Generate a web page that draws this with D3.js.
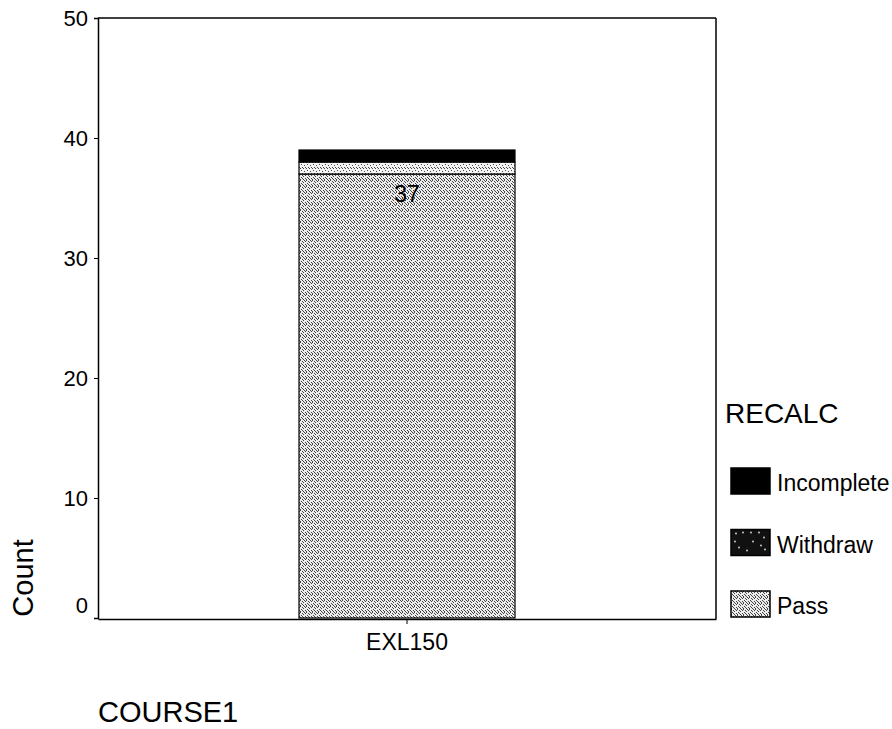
<!DOCTYPE html>
<html>
<head>
<meta charset="utf-8">
<script src="https://cdn.jsdelivr.net/npm/d3@7"></script>
<style>
  html, body { margin: 0; padding: 0; background: #fff; }
  svg { display: block; font-family: "Liberation Sans", Arial, sans-serif; }
</style>
</head>
<body>
<svg id="chart" width="892" height="729"></svg>
<script>
// ---- data ----
const categories = ["EXL150"];
const seriesNames = ["Pass", "Withdraw", "Incomplete"];
const passValues = [37];
const withdrawValues = [1];
const incompleteValues = [1];
const yTicks = [0, 10, 20, 30, 40, 50];
const legendOrder = ["Incomplete", "Withdraw", "Pass"];

const rows = categories.map((c, i) => ({
  course: c,
  Pass: passValues[i],
  Withdraw: withdrawValues[i],
  Incomplete: incompleteValues[i]
}));

const svg = d3.select("#chart");
const plotLeft = 98, plotRight = 716, plotTop = 18, plotBottom = 618;

// patterns
const defs = svg.append("defs");
const pp = defs.append("pattern").attr("id", "passPat")
  .attr("patternUnits", "userSpaceOnUse").attr("width", 6).attr("height", 6);
pp.append("rect").attr("width", 6).attr("height", 6).attr("fill", "#ececec");
[[0,0],[2,1],[4,0],[1,3],[3,2],[5,4],[0,5],[3,5],[2,4],[5,1]].forEach(([px, py]) =>
  pp.append("rect").attr("x", px).attr("y", py).attr("width", 1).attr("height", 1).attr("fill", "#444"));

const wp = defs.append("pattern").attr("id", "wdPat")
  .attr("patternUnits", "userSpaceOnUse").attr("width", 6).attr("height", 6);
wp.append("rect").attr("width", 6).attr("height", 6).attr("fill", "#f4f4f4");
[[0,0],[3,0],[1,2],[4,3],[2,5],[5,5]].forEach(([px, py]) =>
  wp.append("rect").attr("x", px).attr("y", py).attr("width", 1).attr("height", 1).attr("fill", "#444"));

const fills = { Pass: "url(#passPat)", Withdraw: "url(#wdPat)", Incomplete: "#000" };

const x = d3.scaleBand().domain(categories).range([plotLeft, plotRight]).padding(0.482);
const y = d3.scaleLinear().domain([0, 50]).range([plotBottom, plotTop]);

// frame
svg.append("line").attr("x1", plotLeft).attr("x2", plotRight).attr("y1", plotTop).attr("y2", plotTop)
  .attr("stroke", "#000").attr("stroke-width", 1.5);
svg.append("line").attr("x1", plotRight).attr("x2", plotRight).attr("y1", plotTop).attr("y2", plotBottom + 1)
  .attr("stroke", "#000").attr("stroke-width", 1.5);

// bars
const stack = d3.stack().keys(seriesNames)(rows);
const g = svg.append("g");
stack.forEach(s => {
  g.selectAll(null).data(s).enter().append("rect")
    .attr("x", d => x(d.data.course))
    .attr("width", x.bandwidth())
    .attr("y", d => y(d[1]))
    .attr("height", d => y(d[0]) - y(d[1]))
    .attr("fill", fills[s.key])
    .attr("stroke", "#000").attr("stroke-width", 1.2);
});

// value label for Pass
g.selectAll(null).data(stack[0]).enter().append("text")
  .attr("x", d => x(d.data.course) + x.bandwidth() / 2)
  .attr("y", d => y(d[1]) + 28)
  .attr("text-anchor", "middle").attr("font-size", 23).attr("fill", "#000")
  .text(d => d.data.Pass);

// y axis
const yAxis = svg.append("g").attr("transform", `translate(${plotLeft},0)`)
  .call(d3.axisLeft(y).tickValues(yTicks).tickSize(4).tickPadding(6).tickFormat(d3.format("d")));
yAxis.select(".domain").attr("stroke", "#000").attr("stroke-width", 1.5);
yAxis.selectAll(".tick text").attr("font-size", 22).attr("fill", "#000")
  .attr("font-family", "Liberation Sans, Arial, sans-serif");
yAxis.selectAll(".tick").filter(d => d === 0).select("text").attr("dy", "-6px");
yAxis.selectAll(".tick").filter(d => d === 0).select("line").remove();

// x axis
const xAxis = svg.append("g").attr("transform", `translate(0,${plotBottom + 1})`)
  .call(d3.axisBottom(x).tickSize(5).tickPadding(4).tickSizeOuter(0));
xAxis.select(".domain").attr("stroke", "#000").attr("stroke-width", 1.5);
xAxis.selectAll(".tick text").attr("font-size", 23).attr("fill", "#000")
  .attr("y", 31).attr("dy", "0")
  .attr("font-family", "Liberation Sans, Arial, sans-serif");

// axis titles
svg.append("text").attr("transform", "translate(33,578) rotate(-90)")
  .attr("text-anchor", "middle").attr("font-size", 29).attr("fill", "#000").text("Count");
svg.append("text").attr("x", 98).attr("y", 722)
  .attr("font-size", 29).attr("fill", "#000").text("COURSE1");

// legend
svg.append("text").attr("x", 725).attr("y", 423)
  .attr("font-size", 28).attr("fill", "#000").text("RECALC");
const lg = svg.append("g").selectAll("g").data(legendOrder).enter().append("g")
  .attr("transform", (d, i) => `translate(731,${468 + i * 61.5})`);
lg.append("rect").attr("width", 39).attr("height", 26)
  .attr("fill", d => d === "Withdraw" ? "#111" : fills[d])
  .attr("stroke", "#000").attr("stroke-width", 1.5);
lg.filter(d => d === "Withdraw").selectAll("circle")
  .data([[5,4],[12,3],[20,3],[28,3],[33,8],[4,12],[8,18],[22,12],[30,16],[16,21],[34,20]])
  .enter().append("circle").attr("cx", d => d[0]).attr("cy", d => d[1]).attr("r", 0.9).attr("fill", "#ddd");
lg.append("text").attr("x", 46).attr("y", 23)
  .attr("font-size", 23).attr("fill", "#000").text(d => d);
</script>
</body>
</html>
